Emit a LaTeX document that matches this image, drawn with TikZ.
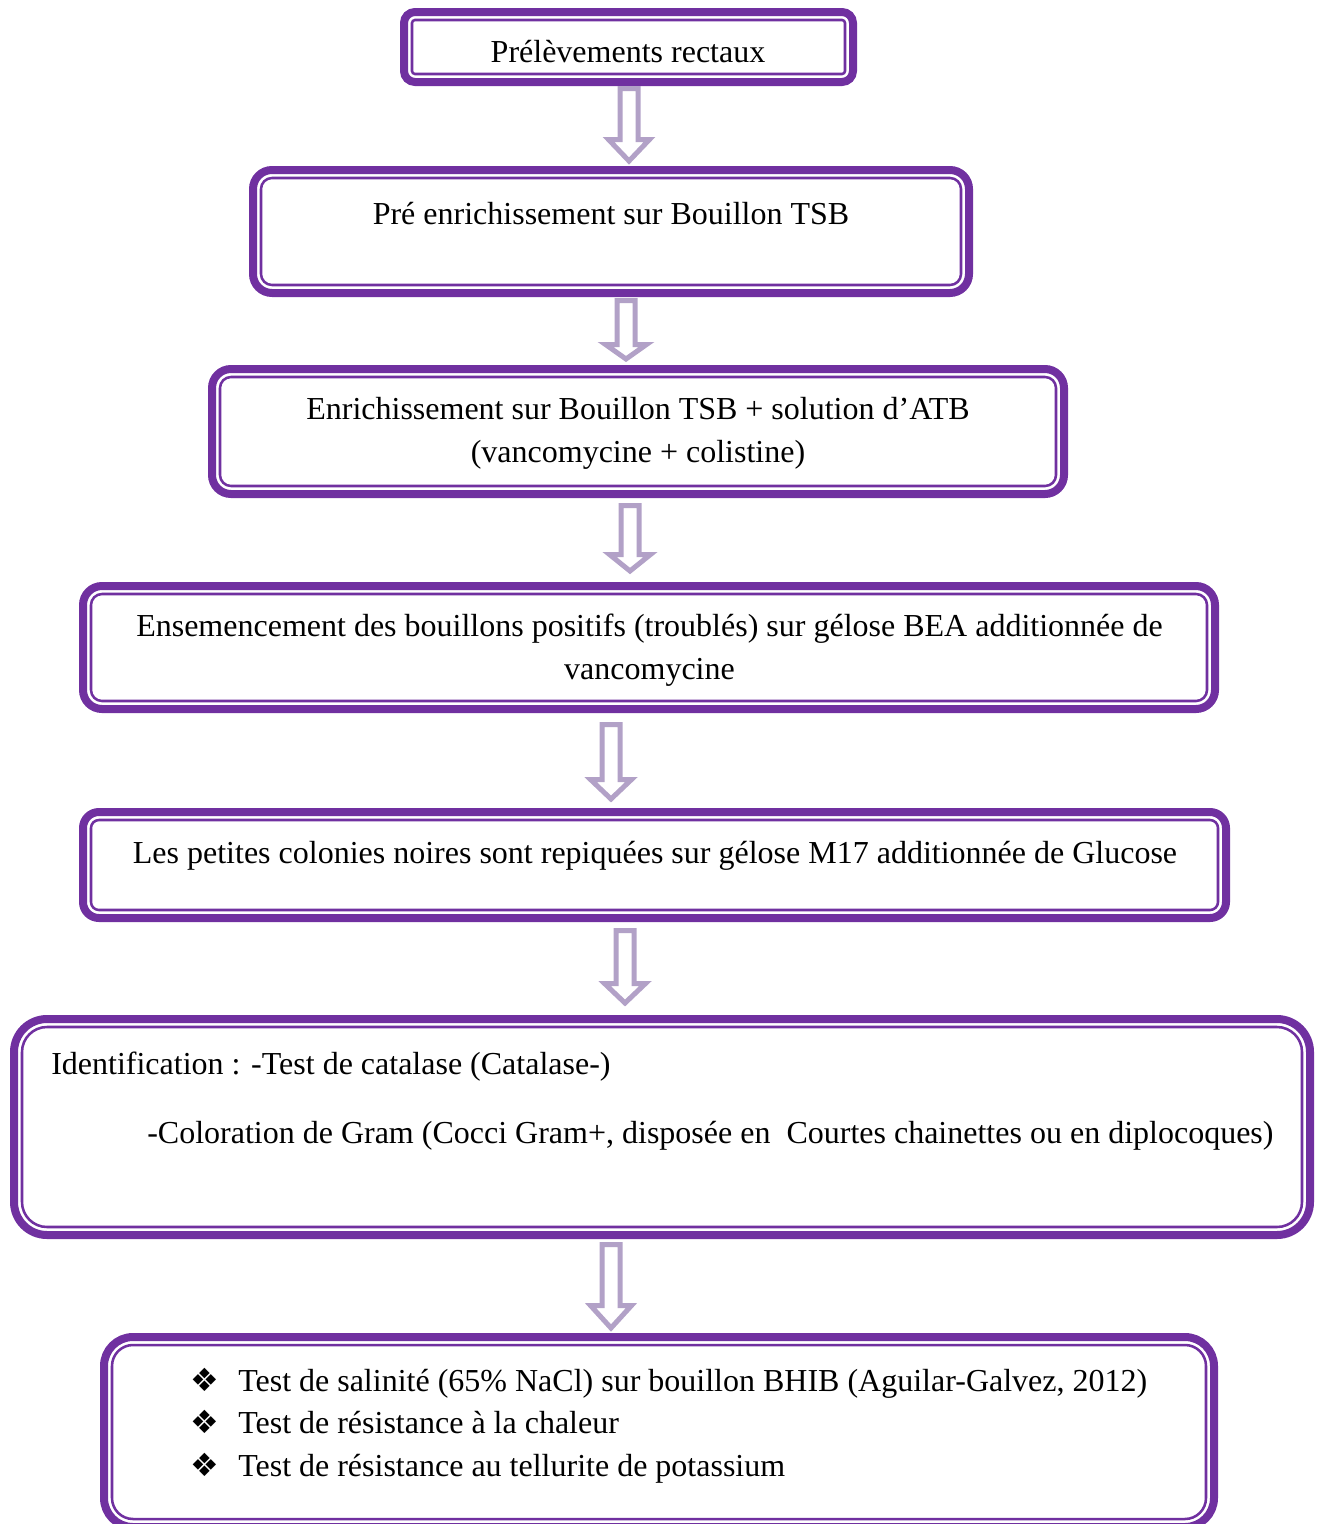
\documentclass[tikz,border=0pt]{standalone}
\usepackage{fontspec}
\setmainfont{Liberation Serif}
\newfontfamily\dejavu{DejaVu Sans}
\usetikzlibrary{calc}
\definecolor{boxpurple}{HTML}{7030A0}
\definecolor{arrowpurple}{HTML}{B2A1C7}
\tikzset{
  flowbox/.style={draw=boxpurple, line width=6pt, fill=white, inner sep=0pt, shape=rectangle},
  innerline/.style={draw=boxpurple, line width=1.9pt},
  hollow/.style={draw=arrowpurple, line width=3.75pt, line join=miter, fill=white},
  txt/.style={font=\fontsize{24pt}{31.7pt}\selectfont, inner sep=0pt, text=black},
}
\newcommand\bul{\makebox[36pt][l]{\dejavu\fontsize{24pt}{24pt}\selectfont ❖}}
% name, x1, y1, x2, y2 (outer edges, px), outer corner radius (px)
\newcommand\flowboxat[6]{%
  \node[flowbox, rounded corners={(#6-4)*0.75pt},
        minimum width={(#4-#2-8)*0.75pt}, minimum height={(#5-#3-8)*0.75pt}]
        (#1) at ({(#2+#4)/2},{(#3+#5)/2}) {};
  \draw[innerline, rounded corners={(#6-12)*0.75pt}]
        ([shift={(12,-12)}]#1.south west) rectangle ([shift={(-12,12)}]#1.north east);
}
% x (px), from node, to node, top gap, tip gap, outer head length (px)
\newcommand\hollowarrow[6]{%
  \draw[hollow] let \p1=(#2.south), \p2=(#3.north),
     \n1={#1*0.75pt}, \n2={\y1-(#4+2.5)*0.75pt}, \n3={\y2+(#5+4)*0.75pt},
     \n4={\y2+(#5+#6-2.5)*0.75pt}
  in (\n1-9*0.75pt,\n2) -- (\n1-9*0.75pt,\n4) -- (\n1-20.5*0.75pt,\n4) -- (\n1,\n3)
     -- (\n1+20.5*0.75pt,\n4) -- (\n1+9*0.75pt,\n4) -- (\n1+9*0.75pt,\n2) -- cycle;
}
\begin{document}
\begin{tikzpicture}[x=0.75pt,y=-0.75pt]
\useasboundingbox (0,0) rectangle (1318,1524);

\flowboxat{b1}{400}{8}{857}{86}{15}
\flowboxat{b2}{249}{166}{973}{297}{23}
\flowboxat{b3}{208}{365}{1068}{498}{23}
\flowboxat{b4}{79}{582}{1219}{713}{23}
\flowboxat{b5}{79}{808}{1230}{922}{20}
\flowboxat{b6}{10}{1015}{1314}{1239}{37}
\flowboxat{b7}{100}{1333}{1218}{1531}{33}

\node[txt, anchor=base] (t1) at (628,62) {Prélèvements rectaux};
\node[txt, anchor=base] (t2) at (611,224) {Pré enrichissement sur Bouillon TSB};
\node[txt, anchor=base, align=center] (t3) at (638,462)
  {Enrichissement sur Bouillon TSB + solution d’ATB\\(vancomycine + colistine)};
\node[txt, anchor=base, align=center] (t4) at (649.5,679)
  {Ensemencement des bouillons positifs (troublés) sur gélose BEA additionnée de\\vancomycine};
\node[txt, anchor=base] (t5) at (655,863)
  {Les petites colonies noires sont repiquées sur gélose M17 additionnée de Glucose};
\node[txt, anchor=base west] (t6a) at (51,1074) {Identification : -Test de catalase (Catalase-)};
\node[txt, anchor=base west] (t6b) at (147,1143)
  {-Coloration de Gram (Cocci Gram+, disposée en~ Courtes chainettes ou en diplocoques)};
\node[txt, anchor=base west, align=left] (t7) at (190,1476)
  {\bul Test de salinité (65\% NaCl) sur bouillon BHIB (Aguilar-Galvez, 2012)\\
   \bul Test de résistance à la chaleur\\
   \bul Test de résistance au tellurite de potassium};

\hollowarrow{629}{b1}{b2}{0}{1}{28}
\hollowarrow{626}{b2}{b3}{1}{2}{21}
\hollowarrow{630}{b3}{b4}{5}{7}{23}
\hollowarrow{611}{b4}{b5}{9}{5}{26}
\hollowarrow{625}{b5}{b6}{6}{8}{26}
\hollowarrow{611}{b6}{b7}{3}{1}{29}
\end{tikzpicture}
\end{document}
